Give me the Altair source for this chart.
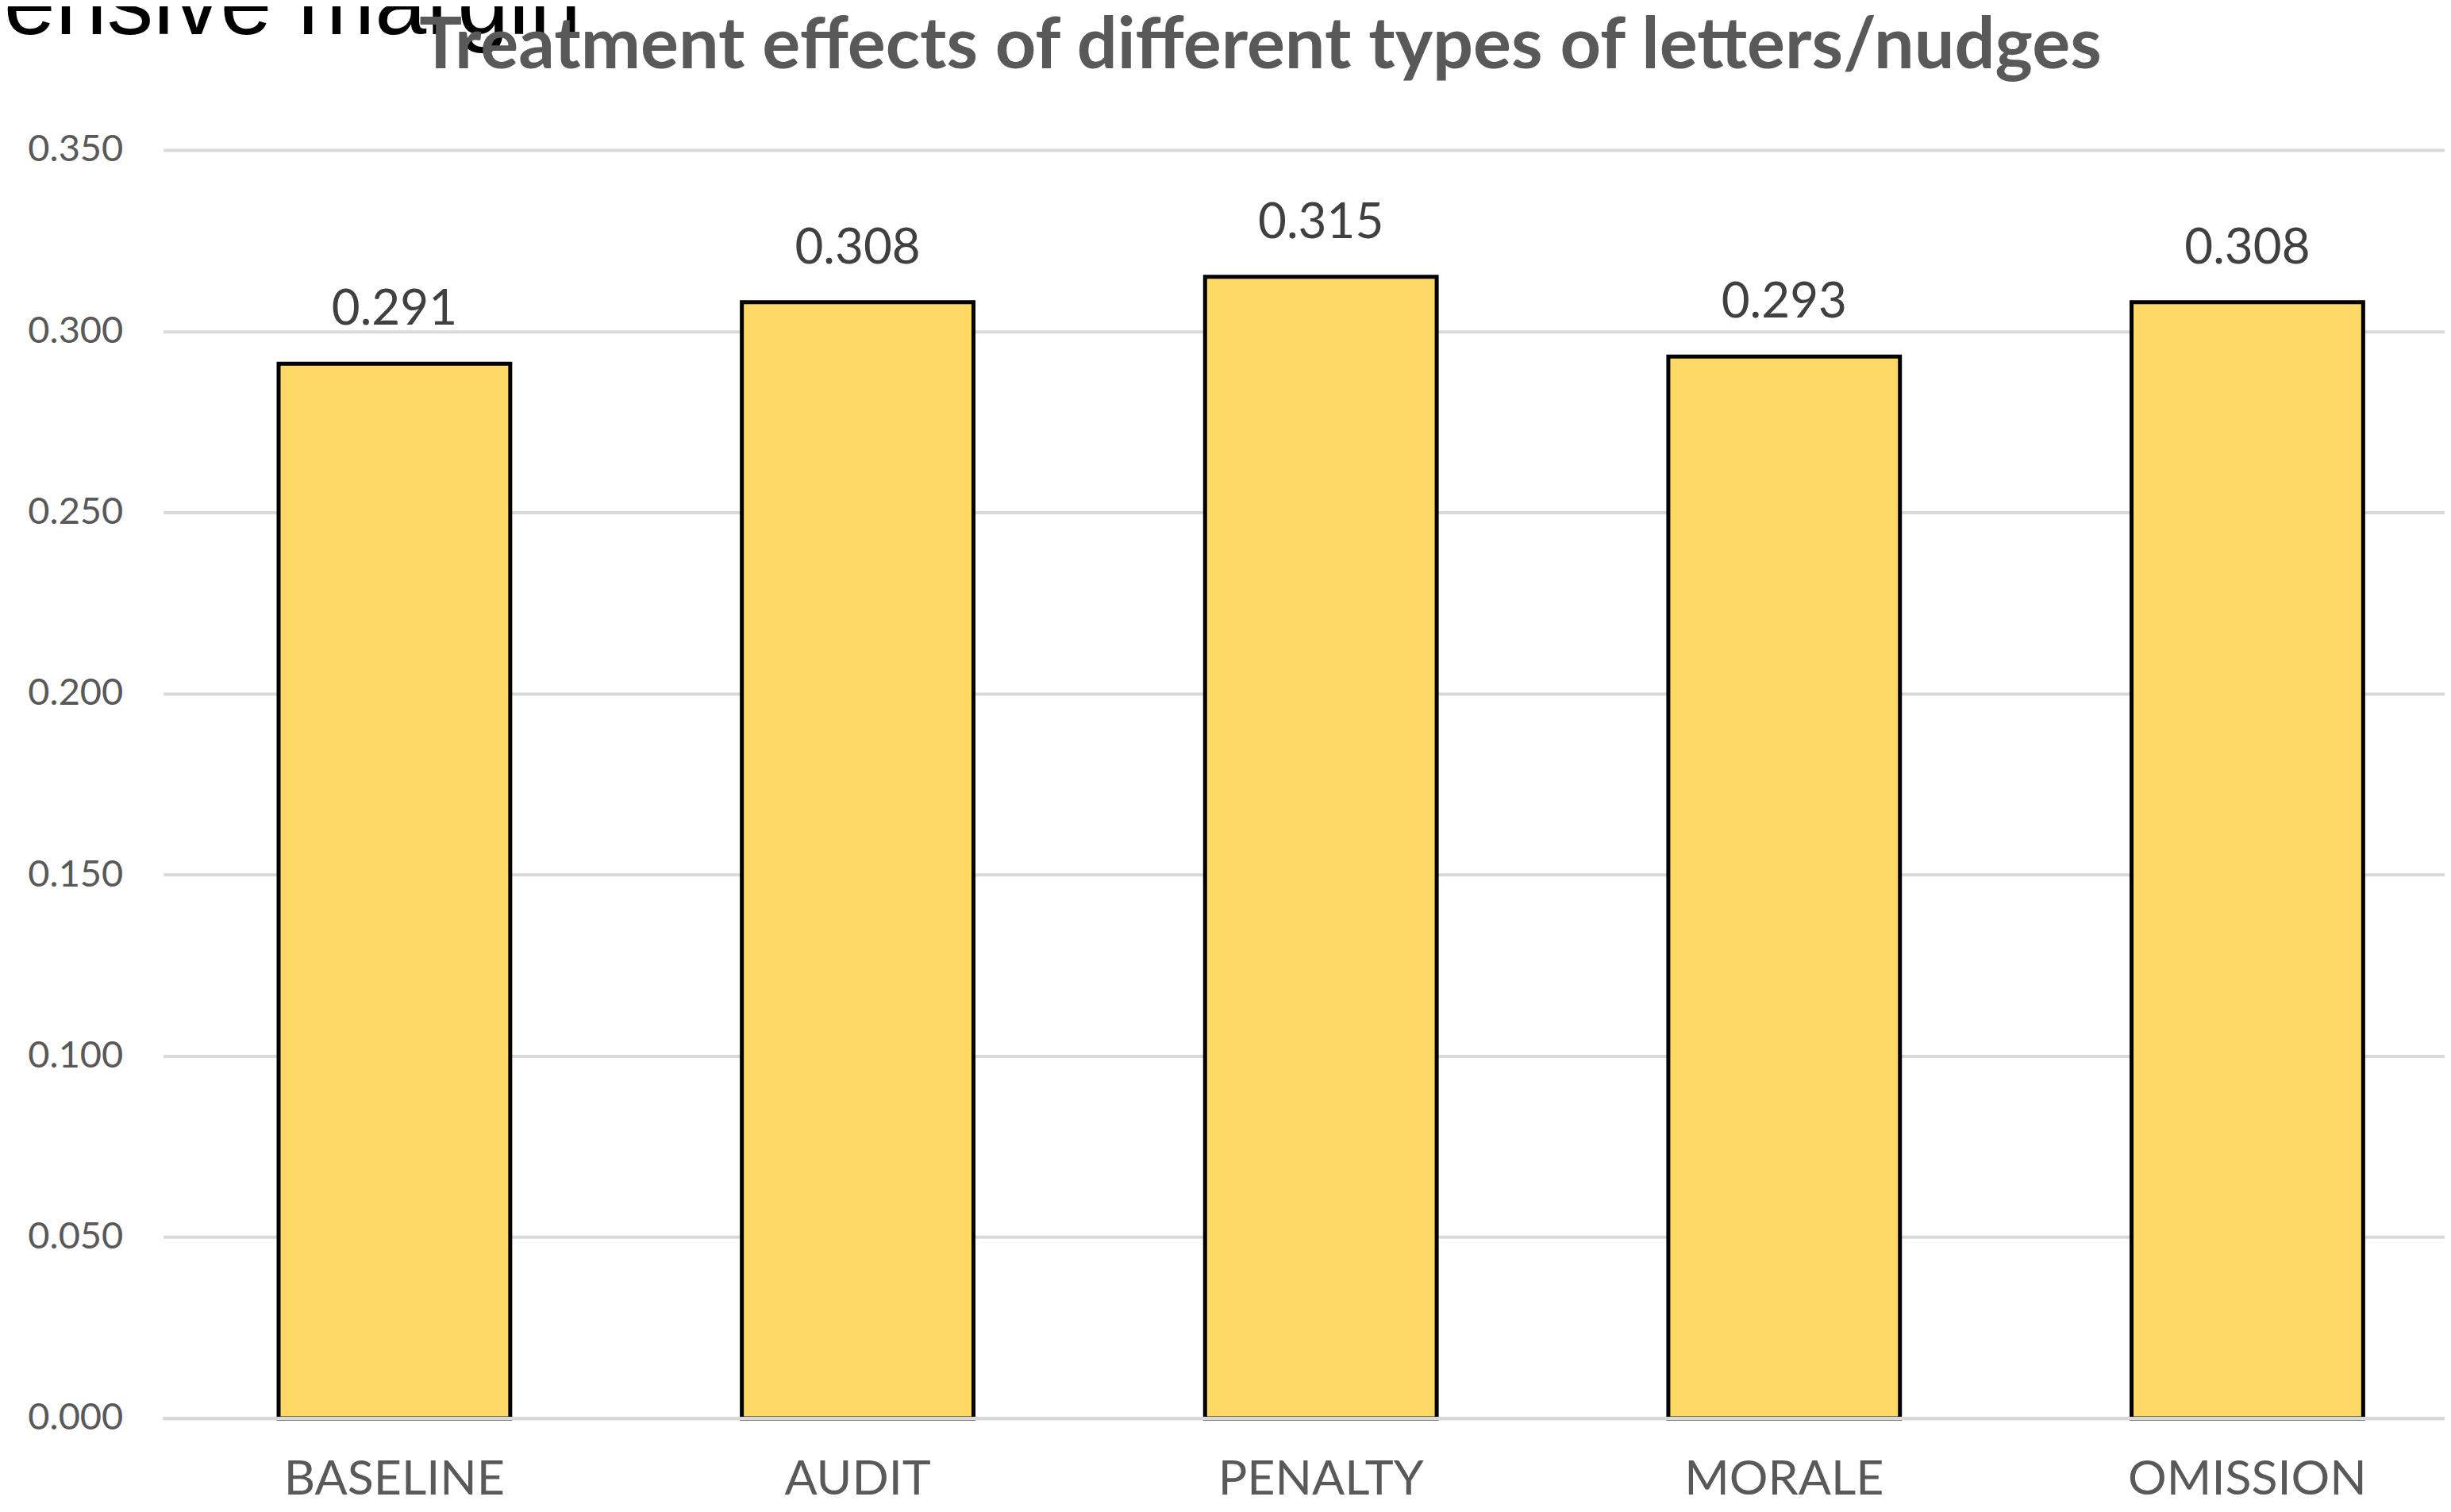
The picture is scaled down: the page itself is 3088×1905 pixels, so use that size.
import altair as alt
import pandas as pd

# ---- data ----
categories = ["BASELINE", "AUDIT", "PENALTY", "MORALE", "OMISSION"]
values = [0.291, 0.308, 0.315, 0.293, 0.308]
y_ticks = [0.0, 0.05, 0.10, 0.15, 0.20, 0.25, 0.30, 0.35]
title_text = "Treatment effects of different types of letters/nudges"
overlay_text = "ensive margin"

df = pd.DataFrame({"letter": categories, "effect": values})

x_enc = alt.X(
    "letter:N", sort=categories, title=None,
    scale=alt.Scale(paddingInner=0.5, paddingOuter=0.2124, align=0.586),
    axis=alt.Axis(labelAngle=0, labelFont="Lato", labelFontSize=61,
                  labelColor="#595959", labelPadding=96,
                  labelBaseline="alphabetic", labelLimit=0, labelOverlap=False,
                  ticks=False, tickSize=0, domain=False, grid=False),
)
y_enc = alt.Y(
    "effect:Q", title=None,
    scale=alt.Scale(domain=[0, 0.35], nice=False, zero=True),
    axis=alt.Axis(values=y_ticks, format=".3f", labelFont="Lato",
                  labelFontSize=47, labelColor="#595959", labelPadding=51,
                  ticks=False, tickSize=0, domain=False, grid=True,
                  gridColor="#D9D9D9", gridWidth=4),
)

bars = alt.Chart(df).mark_bar(
    color="#FFD966", stroke="#000000", strokeWidth=5
).encode(x=x_enc, y=y_enc)

zero_line = alt.Chart(df).mark_rule(color="#D9D9D9", strokeWidth=4).encode(
    y=alt.datum(0)
)

labels = alt.Chart(df).mark_text(
    font="Lato", fontSize=62, color="#404040", baseline="alphabetic", dy=-49
).encode(x=x_enc, y=y_enc, text=alt.Text("effect:Q", format=".3f"))

overlay = alt.Chart(pd.DataFrame({"t": [overlay_text]})).mark_text(
    font="Liberation Sans", fontSize=117, color="#000000",
    align="right", baseline="alphabetic"
).encode(x=alt.value(527), y=alt.value(-146), text="t:N")

title_mark = alt.Chart(pd.DataFrame({"t": [title_text]})).mark_text(
    font="Lato", fontSize=90, fontWeight="bold", color="#595959",
    align="center", baseline="alphabetic"
).encode(x=alt.value(1384), y=alt.value(-103), text="t:N")

chart = alt.layer(bars, zero_line, labels, overlay, title_mark).properties(
    width=2878,
    height=1600,
    autosize=alt.AutoSizeParams(type="none"),
    padding={"left": 198, "top": 180, "right": 0, "bottom": 109},
    background="#FFFFFF",
).configure_view(strokeWidth=0)

chart.save("out.html", embed_options={"renderer": "svg", "actions": False})
